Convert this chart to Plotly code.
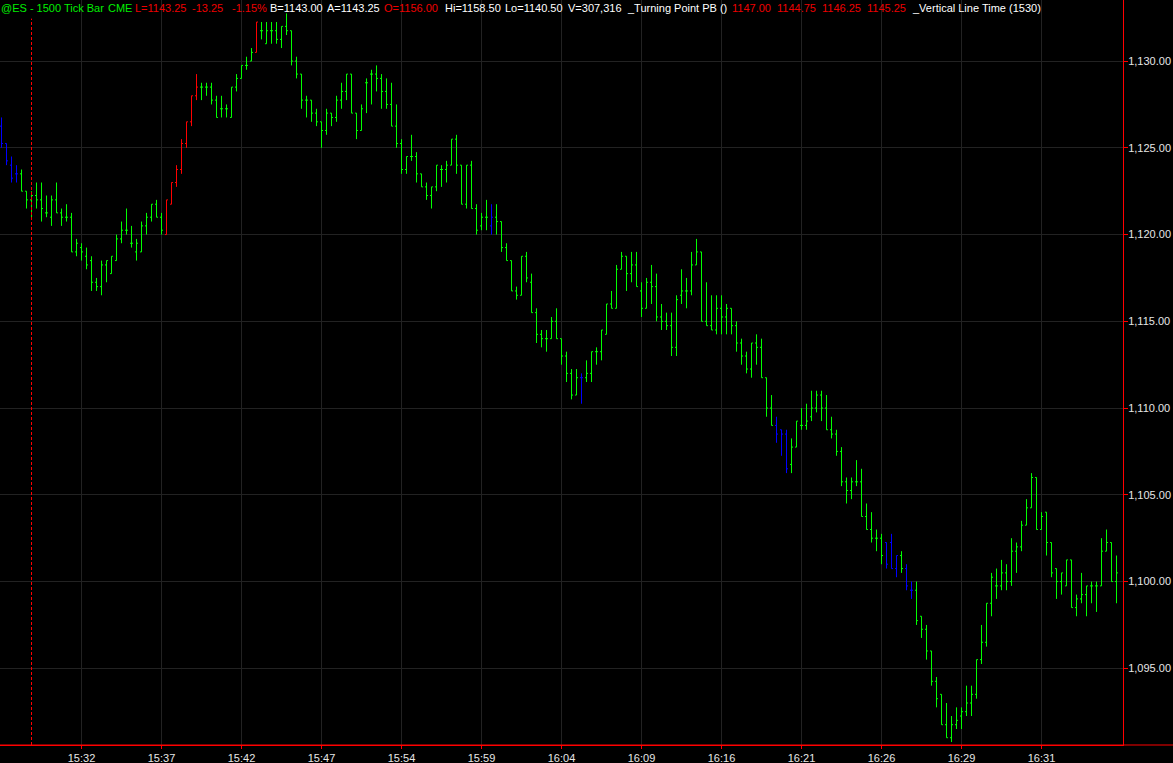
import plotly.graph_objects as go

# ---------------- data ----------------
opens = [
    1126.25, 1125.25, 1124.0, 1123.5, 1123.5, 1122.5, 1122.0, 1122.25, 1122.0, 1121.25, 1121.0, 1122.0, 1121.25, 1121.0, 1121.0, 1119.0,
    1119.25, 1118.75, 1118.5, 1117.25, 1117.0, 1118.25, 1117.75, 1118.5, 1119.75, 1120.25, 1119.5, 1119.0, 1119.0, 1120.5, 1121.0, 1121.75,
    1121.0, 1120.0, 1121.75, 1123.0, 1123.75, 1125.25, 1126.5, 1128.0, 1128.5, 1128.5, 1128.5, 1127.75, 1127.25, 1127.25, 1126.75, 1128.5,
    1129.0, 1129.75, 1130.0, 1130.5, 1131.75, 1131.0, 1131.75, 1131.75, 1131.25, 1132.0, 1131.75, 1130.0, 1129.25, 1127.75, 1127.75, 1127.0,
    1126.5, 1126.0, 1127.0, 1126.75, 1127.75, 1128.25, 1129.25, 1127.0, 1126.0, 1128.75, 1129.25, 1129.25, 1129.0, 1128.25, 1127.5, 1126.25,
    1125.25, 1123.75, 1124.5, 1124.5, 1123.5, 1122.75, 1122.25, 1122.75, 1123.75, 1123.75, 1124.0, 1125.5, 1124.0, 1121.75, 1124.0, 1121.5,
    1120.5, 1121.0, 1120.5, 1121.0, 1120.75, 1119.25, 1118.5, 1116.75, 1116.5, 1118.75, 1117.25, 1115.5, 1114.25, 1114.0, 1114.0, 1115.0,
    1114.0, 1113.0, 1112.0, 1110.75, 1111.75, 1111.75, 1112.0, 1113.25, 1113.25, 1114.25, 1116.0, 1115.75, 1118.0, 1118.75, 1117.75, 1118.25,
    1116.75, 1115.75, 1117.25, 1117.0, 1115.25, 1115.0, 1114.75, 1113.5, 1116.5, 1116.75, 1116.75, 1118.25, 1119.0, 1115.0, 1114.75, 1114.5,
    1115.75, 1115.25, 1115.75, 1114.75, 1113.75, 1113.0, 1112.25, 1113.75, 1113.5, 1111.75, 1110.0, 1109.0, 1108.75, 1108.5, 1106.75, 1107.75,
    1109.0, 1109.0, 1109.5, 1110.0, 1110.75, 1110.0, 1108.75, 1108.5, 1107.5, 1105.75, 1105.25, 1105.75, 1105.75, 1103.75, 1103.0, 1102.5,
    1102.5, 1102.25, 1102.25, 1100.75, 1101.5, 1100.75, 1099.5, 1099.5, 1098.0, 1097.25, 1096.0, 1094.25, 1093.5, 1091.75, 1091.0, 1091.75,
    1092.25, 1092.5, 1093.0, 1093.5, 1095.5, 1096.5, 1098.75, 1099.75, 1099.75, 1100.5, 1100.0, 1101.75, 1102.0, 1103.25, 1104.25, 1106.0,
    1103.0, 1104.0, 1102.25, 1100.75, 1100.0, 1099.75, 1101.25, 1098.5, 1099.0, 1099.25, 1099.75, 1099.75, 1099.75, 1101.75, 1102.25, 1100.0,
]
highs = [
    1126.75, 1125.25, 1124.5, 1124.0, 1123.75, 1122.5, 1122.5, 1123.0, 1123.0, 1122.25, 1122.25, 1123.0, 1121.5, 1121.75, 1121.25, 1119.75,
    1119.5, 1119.25, 1118.75, 1117.5, 1118.5, 1118.5, 1118.75, 1120.0, 1120.75, 1121.5, 1120.5, 1119.75, 1120.75, 1121.25, 1121.75, 1122.0,
    1121.25, 1122.0, 1123.0, 1124.0, 1125.5, 1126.5, 1128.0, 1129.25, 1128.75, 1128.75, 1128.75, 1128.0, 1128.0, 1127.5, 1128.5, 1129.25,
    1129.75, 1130.25, 1130.75, 1132.25, 1132.25, 1132.25, 1132.25, 1132.25, 1132.0, 1132.75, 1131.75, 1130.25, 1129.25, 1128.0, 1127.75, 1127.25,
    1126.5, 1127.25, 1127.0, 1128.0, 1128.75, 1129.25, 1129.25, 1127.0, 1127.5, 1129.0, 1129.5, 1129.75, 1129.25, 1129.0, 1128.75, 1127.5,
    1125.5, 1124.5, 1125.75, 1124.75, 1123.5, 1123.0, 1122.75, 1124.0, 1124.0, 1124.25, 1125.5, 1125.75, 1124.0, 1124.0, 1124.25, 1121.75,
    1121.25, 1122.0, 1121.75, 1121.75, 1120.75, 1119.5, 1118.5, 1117.0, 1118.75, 1119.0, 1117.75, 1115.75, 1114.5, 1114.5, 1115.25, 1115.75,
    1114.0, 1113.25, 1112.25, 1112.25, 1112.0, 1112.75, 1113.25, 1113.5, 1114.5, 1116.0, 1116.75, 1118.25, 1119.0, 1118.75, 1119.0, 1119.0,
    1117.25, 1117.5, 1118.25, 1117.75, 1116.0, 1115.5, 1115.5, 1116.5, 1118.0, 1117.5, 1119.0, 1119.75, 1119.0, 1117.25, 1116.5, 1116.5,
    1116.5, 1116.0, 1115.75, 1115.0, 1114.0, 1113.25, 1113.75, 1114.25, 1114.0, 1111.75, 1110.75, 1109.5, 1108.75, 1108.75, 1108.25, 1109.25,
    1110.0, 1110.25, 1111.0, 1111.0, 1111.0, 1110.75, 1109.5, 1108.75, 1107.75, 1106.0, 1106.0, 1107.0, 1106.5, 1104.5, 1104.0, 1103.0,
    1102.75, 1102.25, 1102.75, 1101.5, 1101.75, 1101.0, 1100.0, 1100.0, 1098.0, 1097.5, 1096.0, 1094.5, 1093.5, 1093.0, 1092.25, 1092.75,
    1092.75, 1094.0, 1094.0, 1095.5, 1097.5, 1098.75, 1100.5, 1100.75, 1101.25, 1101.0, 1102.5, 1102.25, 1103.5, 1104.75, 1106.25, 1106.0,
    1104.0, 1104.0, 1102.25, 1100.75, 1100.5, 1101.25, 1101.25, 1099.25, 1100.5, 1099.75, 1100.0, 1100.0, 1102.5, 1103.0, 1102.25, 1101.5,
]
lows = [
    1125.0, 1124.0, 1123.0, 1123.0, 1122.5, 1121.5, 1121.0, 1121.5, 1120.75, 1121.0, 1120.5, 1121.25, 1120.5, 1120.75, 1119.0, 1118.75,
    1118.5, 1118.0, 1116.75, 1116.75, 1116.5, 1117.25, 1117.75, 1118.5, 1119.5, 1120.0, 1119.25, 1118.5, 1119.0, 1120.0, 1120.75, 1121.0,
    1120.0, 1120.0, 1121.75, 1122.75, 1123.5, 1125.0, 1126.25, 1127.75, 1127.75, 1128.0, 1127.5, 1126.75, 1126.75, 1126.75, 1126.75, 1128.25,
    1129.0, 1129.5, 1130.0, 1130.5, 1131.25, 1131.0, 1131.0, 1131.0, 1130.75, 1131.5, 1129.75, 1129.0, 1127.25, 1126.75, 1126.5, 1126.25,
    1125.0, 1125.75, 1126.25, 1126.5, 1127.25, 1127.75, 1127.0, 1125.5, 1126.0, 1127.0, 1127.5, 1128.25, 1127.25, 1127.25, 1126.25, 1125.0,
    1123.5, 1123.5, 1124.25, 1123.0, 1122.75, 1122.0, 1121.5, 1122.5, 1122.75, 1123.0, 1124.0, 1123.5, 1121.75, 1121.5, 1121.5, 1120.0,
    1120.25, 1120.25, 1120.0, 1120.0, 1119.0, 1118.5, 1116.75, 1116.25, 1116.5, 1117.25, 1115.5, 1113.75, 1113.5, 1113.25, 1114.0, 1114.0,
    1112.5, 1111.5, 1110.5, 1110.75, 1110.25, 1111.5, 1111.5, 1112.5, 1112.75, 1114.25, 1115.75, 1115.75, 1118.0, 1116.75, 1117.25, 1117.0,
    1115.25, 1115.75, 1116.0, 1115.0, 1114.5, 1114.5, 1113.0, 1113.0, 1116.0, 1115.75, 1116.5, 1118.25, 1115.0, 1114.75, 1114.5, 1114.25,
    1114.25, 1114.25, 1114.25, 1113.25, 1112.5, 1112.0, 1111.75, 1112.5, 1111.75, 1109.5, 1109.0, 1108.0, 1107.25, 1106.25, 1106.25, 1107.75,
    1108.75, 1108.75, 1109.25, 1109.75, 1109.25, 1108.75, 1108.25, 1107.25, 1105.5, 1104.5, 1104.75, 1105.5, 1103.75, 1103.0, 1102.25, 1101.75,
    1101.0, 1100.75, 1100.75, 1100.25, 1100.5, 1099.5, 1099.0, 1097.5, 1096.75, 1095.5, 1094.0, 1092.75, 1091.75, 1091.0, 1090.75, 1091.5,
    1091.5, 1092.25, 1092.25, 1093.25, 1095.25, 1096.25, 1098.0, 1099.0, 1099.5, 1099.5, 1099.75, 1100.5, 1101.75, 1103.25, 1104.25, 1103.0,
    1103.0, 1101.5, 1100.25, 1099.0, 1099.25, 1099.75, 1098.5, 1098.0, 1098.75, 1098.0, 1098.75, 1098.25, 1099.75, 1101.75, 1100.0, 1098.75,
]
closes = [
    1125.25, 1124.25, 1123.25, 1123.5, 1122.5, 1122.0, 1122.25, 1122.0, 1121.5, 1121.25, 1122.0, 1121.25, 1121.0, 1121.0, 1119.0, 1119.5,
    1119.0, 1118.25, 1117.25, 1117.0, 1118.25, 1118.5, 1118.75, 1119.75, 1120.25, 1120.25, 1119.5, 1119.5, 1120.5, 1121.0, 1121.75, 1121.0,
    1120.25, 1122.0, 1123.0, 1123.75, 1125.25, 1126.5, 1128.0, 1128.5, 1128.5, 1128.5, 1127.75, 1126.75, 1127.25, 1127.25, 1128.5, 1129.0,
    1129.75, 1129.75, 1130.5, 1132.25, 1131.75, 1131.75, 1131.75, 1131.25, 1132.0, 1131.75, 1130.0, 1129.25, 1127.75, 1127.75, 1127.0, 1126.5,
    1126.0, 1127.0, 1126.75, 1127.75, 1128.25, 1129.25, 1127.0, 1126.0, 1127.25, 1128.75, 1129.25, 1129.0, 1128.25, 1127.5, 1126.25, 1125.25,
    1123.75, 1124.5, 1124.5, 1123.5, 1122.75, 1122.25, 1122.75, 1124.0, 1123.75, 1124.0, 1125.5, 1124.0, 1121.75, 1124.0, 1121.5, 1120.25,
    1121.0, 1121.0, 1121.0, 1120.75, 1119.25, 1118.5, 1116.75, 1116.5, 1118.75, 1117.5, 1115.5, 1114.25, 1114.0, 1114.0, 1115.0, 1114.0,
    1113.0, 1112.0, 1110.75, 1111.75, 1111.75, 1112.0, 1113.25, 1113.25, 1114.5, 1116.0, 1115.75, 1118.0, 1118.75, 1117.75, 1118.25, 1117.0,
    1115.75, 1117.25, 1117.0, 1115.25, 1115.0, 1114.75, 1113.5, 1116.25, 1116.75, 1116.75, 1118.25, 1119.0, 1115.0, 1114.75, 1114.5, 1115.75,
    1115.25, 1115.75, 1114.75, 1113.75, 1113.0, 1112.25, 1113.75, 1113.5, 1111.75, 1110.0, 1109.0, 1108.5, 1108.5, 1106.5, 1107.75, 1109.25,
    1109.0, 1109.25, 1110.0, 1110.75, 1110.0, 1108.75, 1108.5, 1107.5, 1105.75, 1105.25, 1105.75, 1105.75, 1103.75, 1103.0, 1102.5, 1102.5,
    1101.5, 1101.0, 1100.75, 1101.5, 1100.75, 1099.75, 1099.5, 1097.75, 1097.25, 1096.0, 1094.25, 1093.25, 1091.75, 1091.0, 1091.75, 1092.0,
    1092.5, 1093.0, 1093.5, 1095.5, 1096.5, 1098.75, 1100.25, 1099.75, 1100.5, 1100.0, 1101.75, 1102.0, 1103.25, 1104.25, 1106.0, 1103.0,
    1103.75, 1102.25, 1100.5, 1100.0, 1100.5, 1101.25, 1098.5, 1099.0, 1099.25, 1099.75, 1099.75, 1099.75, 1101.75, 1102.25, 1100.0, 1100.5,
]
# bars painted by the "Turning Point PB" study
blue_bars = [0, 1, 2, 3, 98, 116, 155, 156, 157, 177, 178, 179, 181, 182]
red_bars = [33, 34, 35, 36, 37, 38, 39, 51]

tick_bars = [16, 32, 48, 64, 80, 96, 112, 128, 144, 160, 176, 192, 208]
tick_labels = ["15:32", "15:37", "15:42", "15:47", "15:54", "15:59", "16:04",
               "16:09", "16:16", "16:21", "16:26", "16:29", "16:31"]
vertical_line_bar = 6

header_parts = [
    ("@ES - 1500 Tick Bar", 1, "#00ee00"),
    ("CME", 108, "#00ee00"),
    ("L=1143.25", 135, "#ee0000"),
    ("-13.25", 192, "#ee0000"),
    ("-1.15%", 232, "#ee0000"),
    ("B=1143.00", 270, "#ffffff"),
    ("A=1143.25", 327, "#ffffff"),
    ("O=1156.00", 384, "#ee0000"),
    ("Hi=1158.50", 445, "#ffffff"),
    ("Lo=1140.50", 505, "#ffffff"),
    ("V=307,316", 568, "#ffffff"),
    ("_Turning Point PB ()", 627, "#ffffff"),
    ("1147.00", 732, "#ee0000"),
    ("1144.75", 777, "#ee0000"),
    ("1146.25", 822, "#ee0000"),
    ("1145.25", 867, "#ee0000"),
    ("_Vertical Line Time (1530)", 912, "#ffffff"),
]

# ---------------- figure ----------------
W, H = 1173, 763
PLOT_W = 1123
n = len(opens)
idx = list(range(n))
color_of = {i: "g" for i in idx}
for i in blue_bars:
    color_of[i] = "b"
for i in red_bars:
    color_of[i] = "r"

palette = {"g": "#00ff00", "r": "#ff0000", "b": "#0000ff"}

fig = go.Figure()
for key, col in palette.items():
    sel = [i for i in idx if color_of[i] == key]
    fig.add_trace(go.Ohlc(
        x=sel,
        open=[opens[i] for i in sel],
        high=[highs[i] for i in sel],
        low=[lows[i] for i in sel],
        close=[closes[i] for i in sel],
        increasing=dict(line=dict(color=col, width=1)),
        decreasing=dict(line=dict(color=col, width=1)),
        tickwidth=0.3,
        showlegend=False,
        hoverinfo="skip",
    ))

grid = "#222222"
axis_red = "#ff0000"
label_col = "#e6e6e6"

fig.update_layout(
    width=W, height=H,
    margin=dict(l=0, r=W - PLOT_W, t=0, b=18, autoexpand=False),
    paper_bgcolor="#000000",
    plot_bgcolor="#000000",
    font=dict(family="Liberation Sans, Arial, sans-serif", size=11, color=label_col),
    xaxis=dict(
        range=[-0.3, 224.3],
        tickmode="array", tickvals=tick_bars, ticktext=tick_labels,
        showgrid=True, gridcolor=grid, gridwidth=1,
        zeroline=False,
        showline=True, linecolor=axis_red, linewidth=1,
        ticks="outside", tickcolor=axis_red, ticklen=3,
        tickfont=dict(size=11, color=label_col),
        rangeslider=dict(visible=False),
        automargin=False,
    ),
    yaxis=dict(
        side="right",
        range=[1090.58, 1133.52],
        tick0=1095, dtick=5,
        tickformat=",.2f",
        showgrid=True, gridcolor=grid, gridwidth=1,
        zeroline=False,
        showline=True, linecolor=axis_red, linewidth=1,
        ticks="outside", tickcolor=axis_red, ticklen=4,
        ticklabelstandoff=-2,
        tickfont=dict(size=11, color=label_col),
        automargin=False,
    ),
)

# Vertical Line Time (1530)
fig.add_shape(type="line", xref="x", yref="paper",
              x0=vertical_line_bar, x1=vertical_line_bar, y0=0, y1=0.975,
              line=dict(color="#ff0000", width=1, dash="3px,2px"))
# bottom border extends across the price-scale area
fig.add_shape(type="line", xref="paper", yref="paper",
              x0=0, x1=W / PLOT_W, y0=0, y1=0,
              line=dict(color=axis_red, width=1))

for text, px, col in header_parts:
    fig.add_annotation(
        xref="paper", yref="paper",
        x=(px - 2) / PLOT_W, y=1.0,
        xanchor="left", yanchor="top",
        text=text, showarrow=False,
        font=dict(family="Liberation Sans, Arial, sans-serif", size=11, color=col),
    )

fig.write_html("out.html",
               config={"displayModeBar": False, "staticPlot": True},
               post_script="document.body.style.margin='0';document.body.style.overflow='hidden';")
